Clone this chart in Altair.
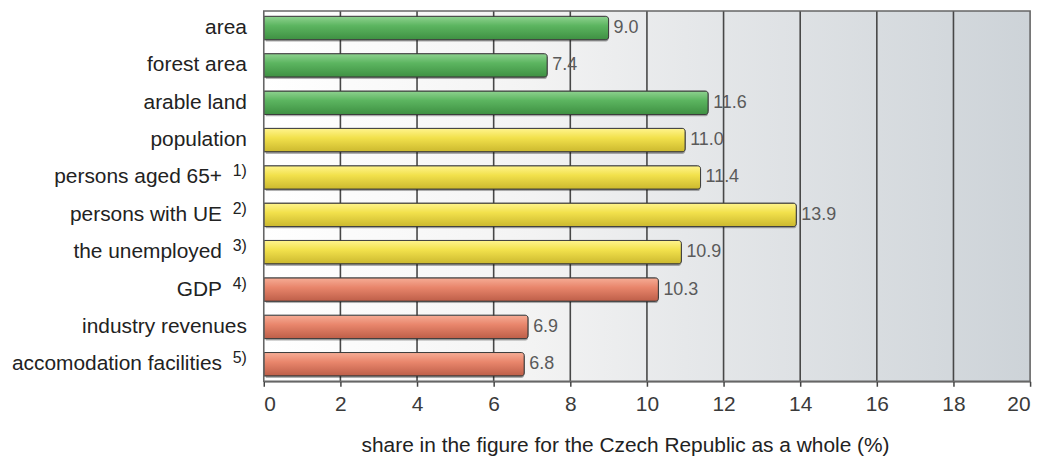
import altair as alt
import pandas as pd

categories = ["area", "forest area", "arable land", "population", "persons aged 65+",
              "persons with UE", "the unemployed", "GDP", "industry revenues",
              "accomodation facilities"]
notes = ["", "", "", "", "1)", "2)", "3)", "4)", "", "5)"]
values = [9.0, 7.4, 11.6, 11.0, 11.4, 13.9, 10.9, 10.3, 6.9, 6.8]
groups = ["land", "land", "land", "people", "people", "people", "people",
          "economy", "economy", "economy"]
x_ticks = [0, 2, 4, 6, 8, 10, 12, 14, 16, 18, 20]
grid_ticks = [2, 4, 6, 8, 10, 12, 14, 16, 18]
x_title = "share in the figure for the Czech Republic as a whole (%)"

W, H = 770, 372
FONT = "Liberation Sans"

df = pd.DataFrame({"cat": categories, "note": notes, "value": values, "group": groups})
df["label"] = [f"{v:.1f}" for v in values]
df["has_note"] = [n != "" for n in notes]

xscale = alt.Scale(domain=[0, 20], nice=False, zero=True)
AX = alt.Axis(values=x_ticks, grid=False, domainColor="#444444",
              domainWidth=1.5, tickColor="#444444", tickSize=5, tickWidth=1.5,
              labelFontSize=21, labelColor="#3a3a3a", labelFont=FONT,
              labelPadding=7, titleFontSize=21, titleFont=FONT,
              titleColor="#222222", titleFontWeight="normal",
              titleX=363, titleY=71, titleAlign="center", titleBaseline="alphabetic")


def X(field):
    return alt.X(field, scale=xscale, axis=AX, title=x_title)


yscale = alt.Scale(domain=categories, paddingInner=0.37, paddingOuter=0.14)
Y = alt.Y("cat:N", scale=yscale, axis=None, sort=categories)

one = pd.DataFrame({"a": [0]})

background = alt.Chart(one).mark_rect(
    color=alt.Gradient(
        gradient="linear", x1=0, x2=1, y1=0, y2=0,
        stops=[alt.GradientStop(color="#ffffff", offset=0),
               alt.GradientStop(color="#f3f3f3", offset=0.35),
               alt.GradientStop(color="#e6e8ea", offset=0.55),
               alt.GradientStop(color="#cdd3d8", offset=1)]
    )
).encode(x=alt.value(0), x2=alt.value(W), y=alt.value(0), y2=alt.value(H))

grid = alt.Chart(pd.DataFrame({"t": grid_ticks})).mark_rule(
    color="#474747", strokeWidth=1.6
).encode(x=X("t:Q"), y=alt.value(0), y2=alt.value(H))

shadow = alt.Chart(df).mark_bar(
    color="#000000", opacity=0.3, xOffset=2, yOffset=2, cornerRadiusEnd=3
).encode(x=X("value:Q"), y=Y)

grads = {
    "land": ["#8fd290", "#5cb560", "#3e9042"],
    "people": ["#fff48e", "#f2e14c", "#cbb82e"],
    "economy": ["#f6ad96", "#e9866c", "#bd5e48"],
}

bars = []
for g, (c1, c2, c3) in grads.items():
    bars.append(
        alt.Chart(df).transform_filter(alt.datum.group == g).mark_bar(
            color=alt.Gradient(
                gradient="linear", x1=0, x2=0, y1=0, y2=1,
                stops=[alt.GradientStop(color=c1, offset=0),
                       alt.GradientStop(color=c2, offset=0.4),
                       alt.GradientStop(color=c3, offset=1)]
            ),
            stroke="#3a3a3a", strokeWidth=1, cornerRadiusEnd=3
        ).encode(x=X("value:Q"), y=Y)
    )

border = alt.Chart(one).mark_rect(
    filled=False, stroke="#666666", strokeWidth=1.6
).encode(x=alt.value(0), x2=alt.value(W), y=alt.value(0), y2=alt.value(H))

value_labels = alt.Chart(df).mark_text(
    align="left", baseline="middle", dx=5, fontSize=18, font=FONT, color="#5a5a5a"
).encode(x=X("value:Q"), y=Y, text="label:N")

cat_plain = alt.Chart(df).transform_filter(~alt.datum.has_note).mark_text(
    align="right", baseline="middle", fontSize=21, font=FONT, color="#222222"
).encode(x=alt.value(-17), y=Y, text="cat:N")

cat_noted = alt.Chart(df).transform_filter(alt.datum.has_note).mark_text(
    align="right", baseline="middle", fontSize=21, font=FONT, color="#222222"
).encode(x=alt.value(-42), y=Y, text="cat:N")

note_text = alt.Chart(df).transform_filter(alt.datum.has_note).mark_text(
    align="right", baseline="middle", dy=-6, fontSize=16, font=FONT, color="#222222"
).encode(x=alt.value(-17), y=Y, text="note:N")

chart = alt.layer(
    background, grid, shadow, *bars, border, value_labels,
    cat_plain, cat_noted, note_text
).properties(
    width=W, height=H,
    autosize=alt.AutoSizeParams(type="none"),
    padding={"left": 257, "top": 2, "right": 20, "bottom": 75}
).configure_view(stroke=None)

chart.save("out.html", embed_options={"renderer": "svg", "actions": False})
